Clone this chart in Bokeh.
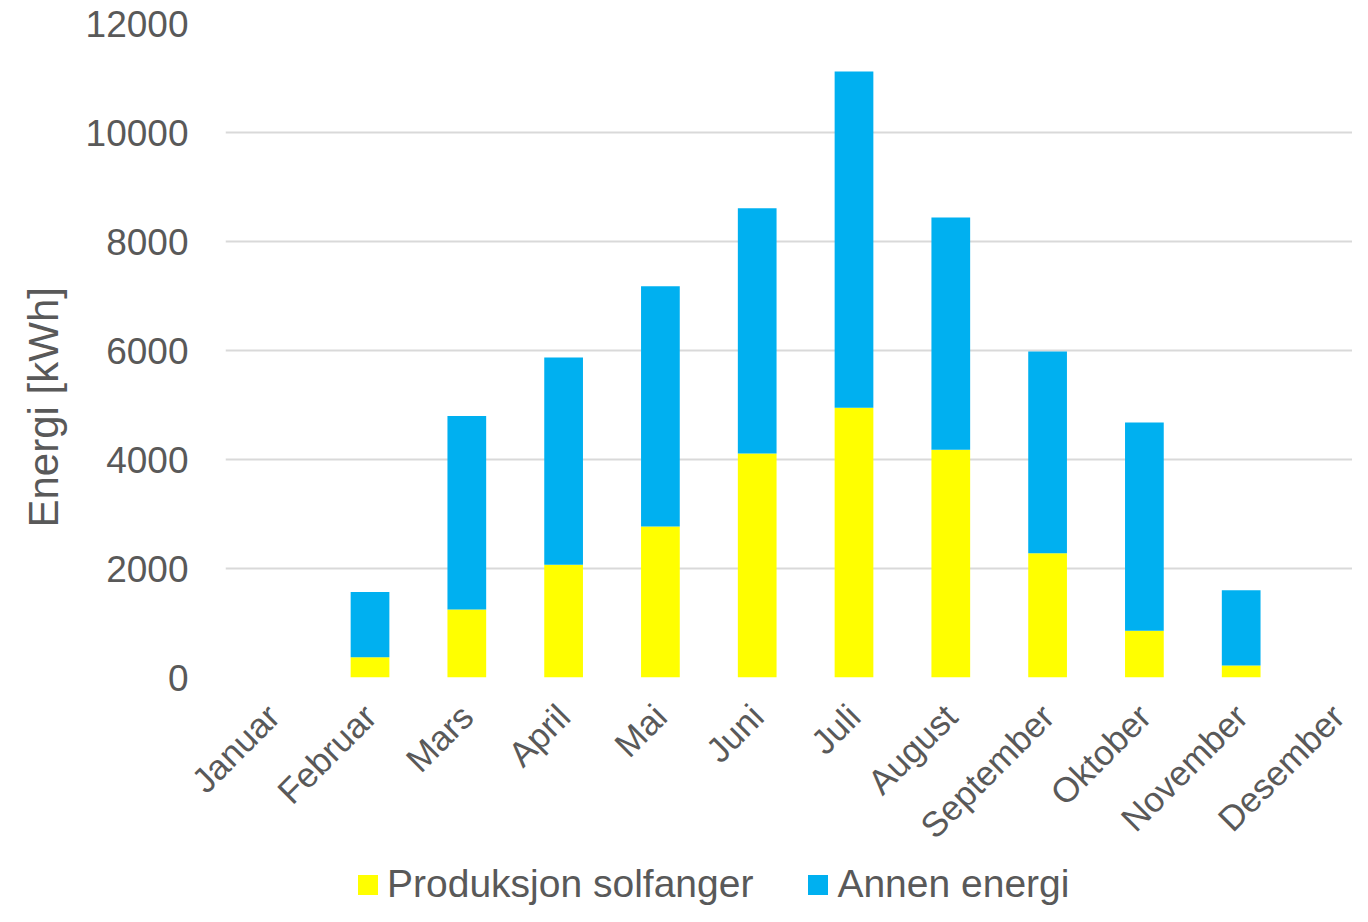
from math import pi
from bokeh.plotting import figure
from bokeh.layouts import column
from bokeh.models import (Range1d, FixedTicker, Legend, LegendItem, Title,
                          ColumnDataSource)
from bokeh.embed import file_html
from bokeh.resources import INLINE

months = ["Januar", "Februar", "Mars", "April", "Mai", "Juni", "Juli",
          "August", "September", "Oktober", "November", "Desember"]
solfanger = [0, 370, 1250, 2070, 2770, 4110, 4950, 4180, 2280, 860, 220, 0]
annen = [0, 1200, 3550, 3800, 4410, 4500, 6170, 4260, 3700, 3820, 1380, 0]
y_ticks = [0, 2000, 4000, 6000, 8000, 10000, 12000]
series_names = ["Produksjon solfanger", "Annen energi"]
colors = ["#FFFF00", "#00B0F0"]

FONT = "Liberation Sans"
TXT = "#595959"
W = 1352
H_MAIN = 862
H_LEG = 44

xs = list(range(len(months)))
src = ColumnDataSource(dict(x=xs, sol=solfanger, annen=annen))

p = figure(width=W, height=H_MAIN, output_backend="svg", toolbar_location=None,
           x_range=Range1d(-0.493, 11.15), y_range=Range1d(0, 12000),
           min_border_left=225, min_border_right=0, min_border_top=23,
           min_border_bottom=185)
p.outline_line_color = None
p.background_fill_color = "white"
p.border_fill_color = "white"

rs = p.vbar_stack(["sol", "annen"], x="x", width=0.4, color=colors,
                  line_color=None, source=src)

# y axis
ya = p.yaxis[0]
ya.ticker = FixedTicker(ticks=y_ticks)
ya.axis_line_color = None
ya.major_tick_line_color = None
ya.minor_tick_line_color = None
ya.major_tick_out = 0
ya.major_label_standoff = 37
ya.major_label_text_font = FONT
ya.major_label_text_font_size = "37px"
ya.major_label_text_color = TXT

# x axis
xa = p.xaxis[0]
xa.ticker = FixedTicker(ticks=xs)
xa.major_label_overrides = {i: m for i, m in enumerate(months)}
xa.major_label_orientation = pi / 4
xa.axis_line_color = None
xa.major_tick_line_color = None
xa.minor_tick_line_color = None
xa.major_tick_out = 0
xa.major_label_standoff = 33
xa.major_label_text_font = FONT
xa.major_label_text_font_size = "35px"
xa.major_label_text_line_height = 0.9
xa.major_label_text_color = TXT

p.xgrid.grid_line_color = None
p.ygrid.grid_line_color = "#D9D9D9"
p.ygrid.grid_line_width = 2

# y axis title
ytitle = Title(text="Energi [kWh]", align="left", offset=150,
               text_font=FONT, text_font_size="42px", text_color=TXT,
               text_font_style="normal", standoff=32)
p.add_layout(ytitle, "left")

# legend in a separate strip below the chart
pl = figure(width=W, height=H_LEG, output_backend="svg", toolbar_location=None,
            x_range=Range1d(0, 1), y_range=Range1d(0, 1),
            min_border_left=0, min_border_right=0, min_border_top=0,
            min_border_bottom=0)
pl.xaxis.visible = False
pl.yaxis.visible = False
pl.grid.visible = False
pl.outline_line_color = None
pl.background_fill_color = "white"
pl.border_fill_color = "white"
# zero-height proxy bars, only used to give the legend its swatches
dummy = [pl.vbar(x=[0], top=[0], bottom=[0], width=0.1, fill_color=c,
                 line_color=None)
         for c in colors]

legend = Legend(items=[LegendItem(label=n, renderers=[r])
                       for n, r in zip(series_names, dummy)],
                orientation="horizontal", location=(130, 0),
                padding=0, margin=0, spacing=52, label_standoff=7,
                glyph_width=25, glyph_height=25,
                label_text_font=FONT, label_text_font_size="39px",
                label_text_color=TXT, border_line_color=None,
                background_fill_alpha=0)
pl.add_layout(legend, "center")

layout = column(p, pl, spacing=0)
open("out.html", "w").write(file_html(layout, INLINE))
